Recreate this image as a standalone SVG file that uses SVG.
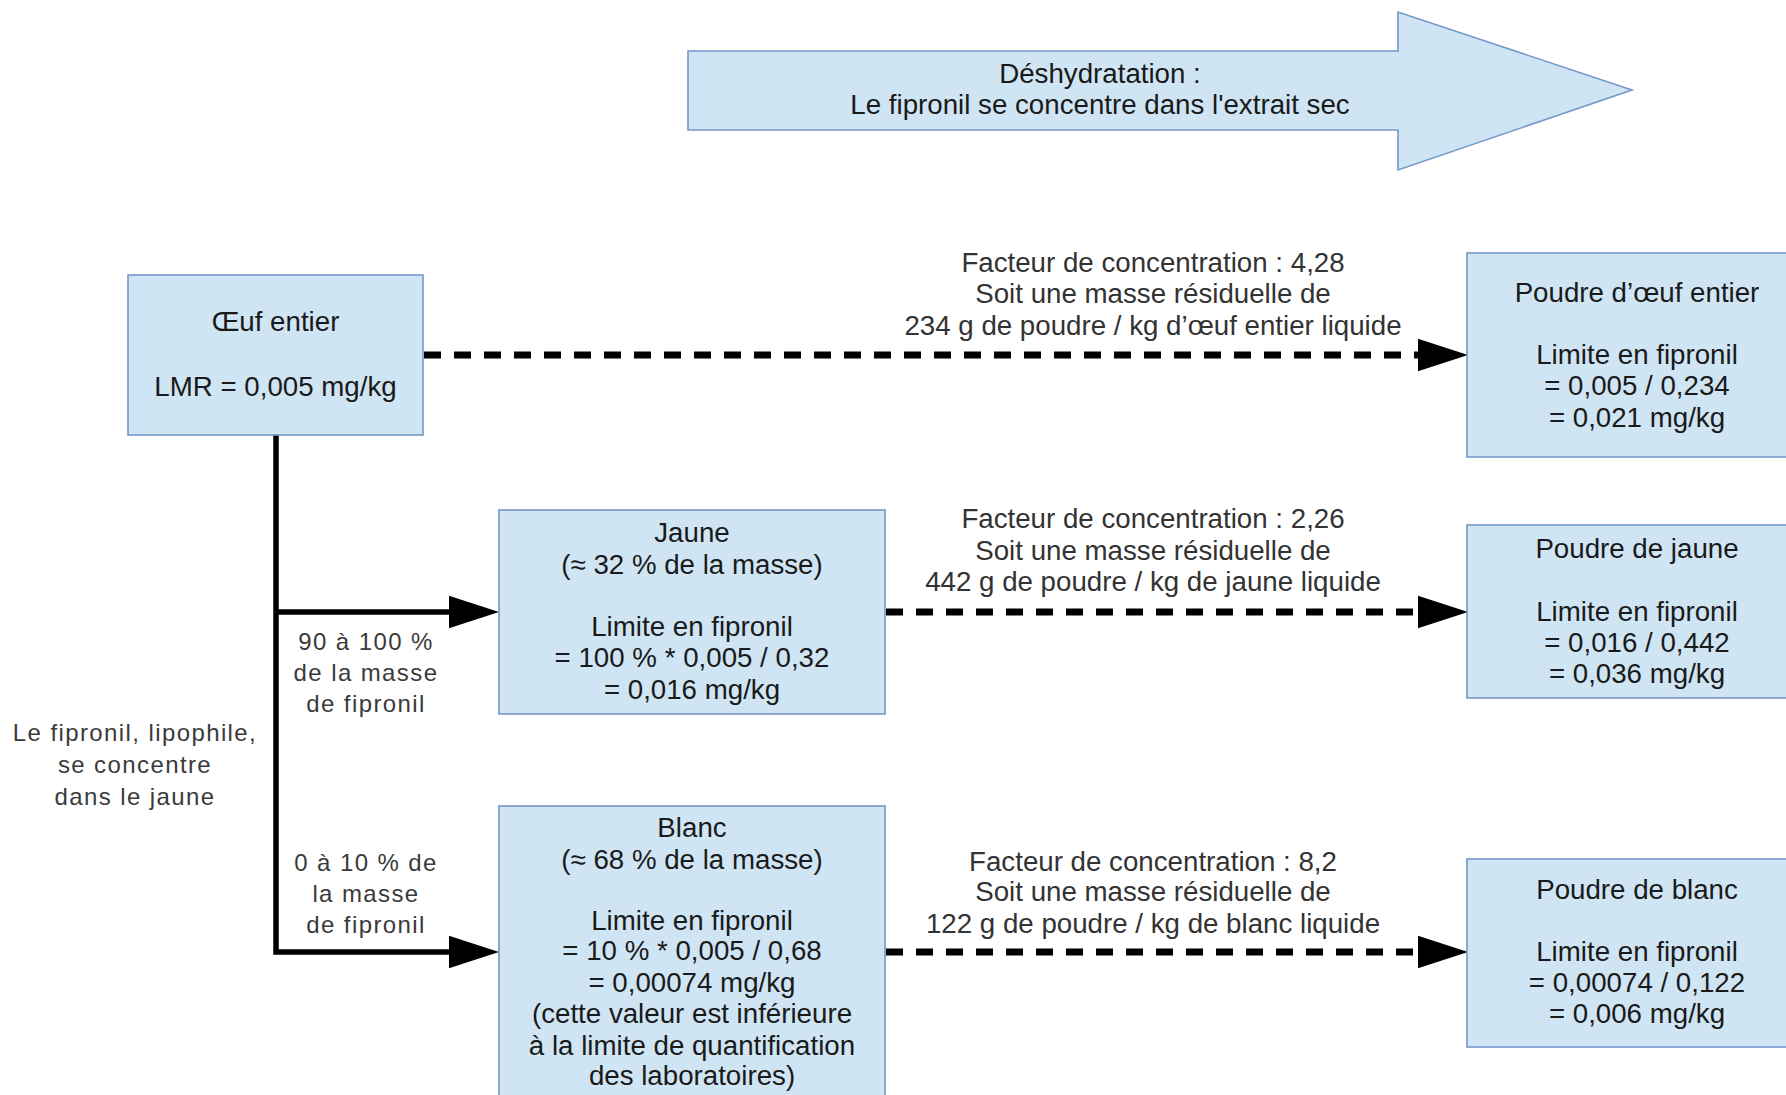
<svg xmlns="http://www.w3.org/2000/svg" width="1786" height="1095" viewBox="0 0 1786 1095">
<style>
.box{fill:#cfe5f3;stroke:#7398c9;stroke-width:1.6}
.t{font-family:"Liberation Sans",Arial,sans-serif;font-size:27.7px;fill:#1a1a1a;text-anchor:middle}
.lbl{font-family:"Liberation Sans",Arial,sans-serif;font-size:27.7px;fill:#333;text-anchor:middle}
.side{font-family:"Liberation Sans",Arial,sans-serif;font-size:24px;letter-spacing:1.4px;fill:#3a3a3a;text-anchor:middle}
.solid{fill:none;stroke:#000;stroke-width:5.5;stroke-linejoin:miter}
.dash{fill:none;stroke:#000;stroke-width:7;stroke-dasharray:17 13}
</style>
<defs>
<marker id="ah" markerUnits="userSpaceOnUse" markerWidth="50" markerHeight="34" viewBox="0 0 49 32" refX="0" refY="16" orient="auto">
<path d="M0,0 L49,16 L0,32 Z" fill="#000"/>
</marker>
</defs>
<g id="deshydratation">
<polygon class="box" points="688,51 1398,51 1398,12 1632,90 1398,170 1398,130 688,130"/>
<text class="t" x="1100" y="83">Déshydratation :</text>
<text class="t" x="1100" y="114">Le fipronil se concentre dans l'extrait sec</text>
</g>
<g id="connectors">
<path class="solid" d="M276,435 V952 H449" marker-end="url(#ah)"/>
<path class="solid" d="M276,612 H449" marker-end="url(#ah)"/>
<path class="dash" d="M424,355 H1418" marker-end="url(#ah)"/>
<path class="dash" d="M886,612 H1418" marker-end="url(#ah)"/>
<path class="dash" d="M886,952 H1418" marker-end="url(#ah)"/>
<text class="lbl" x="1153" y="272">Facteur de concentration : 4,28</text>
<text class="lbl" x="1153" y="303">Soit une masse résiduelle de</text>
<text class="lbl" x="1153" y="335">234 g de poudre / kg d’œuf entier liquide</text>
<text class="lbl" x="1153" y="528">Facteur de concentration : 2,26</text>
<text class="lbl" x="1153" y="560">Soit une masse résiduelle de</text>
<text class="lbl" x="1153" y="591">442 g de poudre / kg de jaune liquide</text>
<text class="lbl" x="1153" y="871">Facteur de concentration : 8,2</text>
<text class="lbl" x="1153" y="901">Soit une masse résiduelle de</text>
<text class="lbl" x="1153" y="933">122 g de poudre / kg de blanc liquide</text>
<text class="side" x="366" y="650">90 à 100 %</text>
<text class="side" x="366" y="681">de la masse</text>
<text class="side" x="366" y="712">de fipronil</text>
<text class="side" x="366" y="871">0 à 10 % de</text>
<text class="side" x="366" y="902">la masse</text>
<text class="side" x="366" y="933">de fipronil</text>
<text class="side" x="135" y="741">Le fipronil, lipophile,</text>
<text class="side" x="135" y="773">se concentre</text>
<text class="side" x="135" y="805">dans le jaune</text>
</g>
<g id="oeuf">
<rect class="box" x="128" y="275" width="295" height="160"/>
<text class="t" x="275.5" y="331">Œuf entier</text>
<text class="t" x="275.5" y="396">LMR = 0,005 mg/kg</text>
</g>
<g id="jaune">
<rect class="box" x="499" y="510" width="386" height="204"/>
<text class="t" x="692" y="542">Jaune</text>
<text class="t" x="692" y="574">(≈ 32 % de la masse)</text>
<text class="t" x="692" y="636">Limite en fipronil</text>
<text class="t" x="692" y="667">= 100 % * 0,005 / 0,32</text>
<text class="t" x="692" y="699">= 0,016 mg/kg</text>
</g>
<g id="blanc">
<rect class="box" x="499" y="806" width="386" height="300"/>
<text class="t" x="692" y="837">Blanc</text>
<text class="t" x="692" y="869">(≈ 68 % de la masse)</text>
<text class="t" x="692" y="930">Limite en fipronil</text>
<text class="t" x="692" y="960">= 10 % * 0,005 / 0,68</text>
<text class="t" x="692" y="992">= 0,00074 mg/kg</text>
<text class="t" x="692" y="1023">(cette valeur est inférieure</text>
<text class="t" x="692" y="1055">à la limite de quantification</text>
<text class="t" x="692" y="1085">des laboratoires)</text>
</g>
<g id="poudre-oeuf">
<rect class="box" x="1467" y="253" width="340" height="204"/>
<text class="t" x="1637" y="302">Poudre d’œuf entier</text>
<text class="t" x="1637" y="364">Limite en fipronil</text>
<text class="t" x="1637" y="395">= 0,005 / 0,234</text>
<text class="t" x="1637" y="427">= 0,021 mg/kg</text>
</g>
<g id="poudre-jaune">
<rect class="box" x="1467" y="525" width="340" height="173"/>
<text class="t" x="1637" y="558">Poudre de jaune</text>
<text class="t" x="1637" y="621">Limite en fipronil</text>
<text class="t" x="1637" y="652">= 0,016 / 0,442</text>
<text class="t" x="1637" y="683">= 0,036 mg/kg</text>
</g>
<g id="poudre-blanc">
<rect class="box" x="1467" y="859" width="340" height="188"/>
<text class="t" x="1637" y="899">Poudre de blanc</text>
<text class="t" x="1637" y="961">Limite en fipronil</text>
<text class="t" x="1637" y="992">= 0,00074 / 0,122</text>
<text class="t" x="1637" y="1023">= 0,006 mg/kg</text>
</g>
</svg>
